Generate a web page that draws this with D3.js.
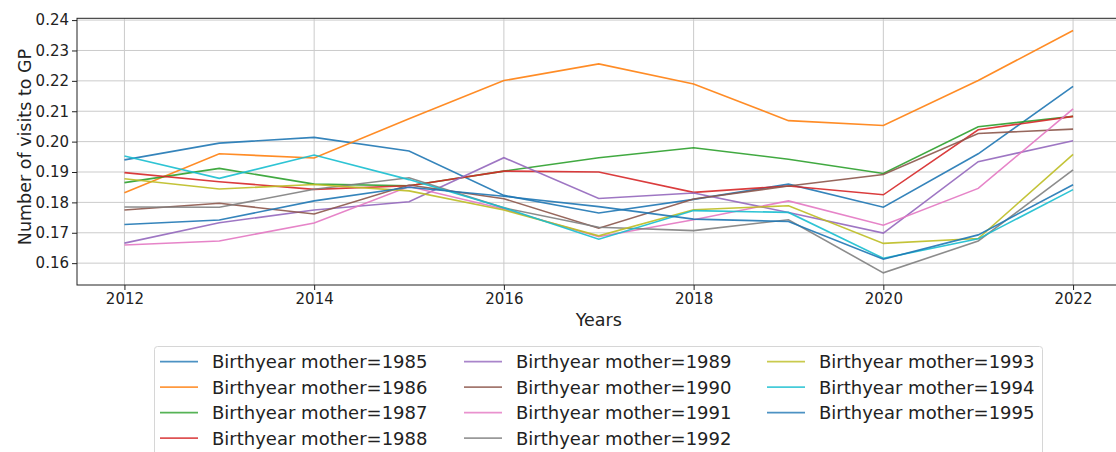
<!DOCTYPE html>
<html>
<head>
<meta charset="utf-8">
<script src="https://cdn.jsdelivr.net/npm/d3@7"></script>
<style>
  body { margin: 0; background: #fff; }
  svg { display: block; font-family: "DejaVu Sans", sans-serif; }
  .tick text { fill: #222; }
</style>
</head>
<body>
<div id="chart"></div>
<script>
// data
var years = [2012, 2013, 2014, 2015, 2016, 2017, 2018, 2019, 2020, 2021, 2022];
var birthyears = [1985, 1986, 1987, 1988, 1989, 1990, 1991, 1992, 1993, 1994, 1995];

var b1985 = [0.1940, 0.1995, 0.2014, 0.1969, 0.1823, 0.1765, 0.1810, 0.1860, 0.1784, 0.1960, 0.2182];
var b1986 = [0.1832, 0.1960, 0.1946, 0.2075, 0.2201, 0.2256, 0.2190, 0.2069, 0.2053, 0.2201, 0.2366];
var b1987 = [0.1865, 0.1912, 0.1860, 0.1855, 0.1903, 0.1947, 0.1980, 0.1942, 0.1895, 0.2049, 0.2083];
var b1988 = [0.1898, 0.1868, 0.1843, 0.1855, 0.1903, 0.1900, 0.1833, 0.1854, 0.1825, 0.2039, 0.2083];
var b1989 = [0.1666, 0.1733, 0.1775, 0.1802, 0.1947, 0.1813, 0.1831, 0.1767, 0.1699, 0.1934, 0.2003];
var b1990 = [0.1775, 0.1797, 0.1762, 0.1857, 0.1812, 0.1715, 0.1811, 0.1854, 0.1892, 0.2027, 0.2041];
var b1991 = [0.1660, 0.1673, 0.1732, 0.1852, 0.1778, 0.1687, 0.1743, 0.1805, 0.1725, 0.1846, 0.2108];
var b1992 = [0.1785, 0.1784, 0.1843, 0.1881, 0.1782, 0.1718, 0.1707, 0.1743, 0.1568, 0.1673, 0.1907];
var b1993 = [0.1878, 0.1844, 0.1859, 0.1838, 0.1775, 0.1690, 0.1776, 0.1789, 0.1665, 0.1681, 0.1958];
var b1994 = [0.1953, 0.1879, 0.1956, 0.1875, 0.1782, 0.1679, 0.1773, 0.1767, 0.1616, 0.1680, 0.1842];
var b1995 = [0.1727, 0.1742, 0.1805, 0.1850, 0.1820, 0.1786, 0.1745, 0.1737, 0.1613, 0.1693, 0.1858];

var seriesValues = [b1985, b1986, b1987, b1988, b1989, b1990, b1991, b1992, b1993, b1994, b1995];

var xTicks = [2012, 2014, 2016, 2018, 2020, 2022];
var yTicks = [0.16, 0.17, 0.18, 0.19, 0.20, 0.21, 0.22, 0.23, 0.24];

// matplotlib tab10 cycle
var colors = ["#1f77b4", "#ff7f0e", "#2ca02c", "#d62728", "#9467bd",
              "#8c564b", "#e377c2", "#7f7f7f", "#bcbd22", "#17becf"];

var W = 1116, H = 452;
var plot = { left: 77, top: 18.3, right: 1120.5, bottom: 285 };

var svg = d3.select("#chart").append("svg")
    .attr("width", W)
    .attr("height", H);

// scales with 5% margins like matplotlib
var x = d3.scaleLinear()
    .domain([2011.5, 2022.5])
    .range([plot.left, plot.right]);

var allVals = d3.merge(seriesValues);
var yMin = d3.min(allVals), yMax = d3.max(allVals);
var pad = (yMax - yMin) * 0.05;
var y = d3.scaleLinear()
    .domain([yMin - pad, yMax + pad])
    .range([plot.bottom, plot.top]);

// grid
svg.append("g").selectAll("line.gx")
    .data(xTicks).enter().append("line")
    .attr("x1", d => x(d)).attr("x2", d => x(d))
    .attr("y1", plot.top).attr("y2", plot.bottom)
    .attr("stroke", "#cbcbcb").attr("stroke-width", 1);
svg.append("g").selectAll("line.gy")
    .data(yTicks).enter().append("line")
    .attr("x1", plot.left).attr("x2", plot.right)
    .attr("y1", d => y(d)).attr("y2", d => y(d))
    .attr("stroke", "#cbcbcb").attr("stroke-width", 1);

// lines
var line = d3.line()
    .x((d, i) => x(years[i]))
    .y(d => y(d));

svg.append("g").selectAll("path")
    .data(seriesValues).enter().append("path")
    .attr("d", line)
    .attr("fill", "none")
    .attr("stroke", (d, i) => colors[i % 10])
    .attr("stroke-width", 1.6)
    .attr("stroke-opacity", 0.9);

// spines
svg.append("rect")
    .attr("x", plot.left).attr("y", plot.top)
    .attr("width", plot.right - plot.left)
    .attr("height", plot.bottom - plot.top)
    .attr("fill", "none")
    .attr("stroke", "#222").attr("stroke-width", 1);

// axes
var xAxis = d3.axisBottom(x).tickValues(xTicks).tickFormat(d3.format("d"))
    .tickSize(5).tickPadding(3);
var yAxis = d3.axisLeft(y).tickValues(yTicks).tickFormat(d3.format(".2f"))
    .tickSize(5).tickPadding(3);

var gx = svg.append("g").attr("transform", "translate(0," + plot.bottom + ")").call(xAxis);
var gy = svg.append("g").attr("transform", "translate(" + plot.left + ",0)").call(yAxis);
[gx, gy].forEach(function (g) {
    g.select(".domain").remove();
    g.selectAll(".tick line").attr("stroke", "#222");
    g.selectAll(".tick text").attr("font-size", 15).attr("font-family", "DejaVu Sans");
});

// axis titles
svg.append("text")
    .attr("x", (plot.left + plot.right) / 2).attr("y", 326)
    .attr("text-anchor", "middle")
    .attr("font-size", 17.5).attr("fill", "#222")
    .text("Years");

svg.append("text")
    .attr("transform", "translate(31," + 147 + ") rotate(-90)")
    .attr("text-anchor", "middle")
    .attr("font-size", 17.5).attr("fill", "#222")
    .text("Number of visits to GP");

// legend, 3 columns x 4 rows
var legend = svg.append("g");
legend.append("rect")
    .attr("x", 154.5).attr("y", 346.5)
    .attr("width", 888).attr("height", 120)
    .attr("rx", 3)
    .attr("fill", "#fff")
    .attr("stroke", "#d6d6d6").attr("stroke-width", 1);

var colX = [160, 464, 767];
var rowY = [361.7, 387.2, 412.7, 438.2];

var item = legend.selectAll("g.item")
    .data(birthyears).enter().append("g")
    .attr("transform", (d, i) => "translate(" + colX[Math.floor(i / 4)] + "," + rowY[i % 4] + ")");

item.append("line")
    .attr("x1", 0).attr("x2", 38)
    .attr("stroke", (d, i) => colors[i % 10])
    .attr("stroke-width", 1.8)
    .attr("stroke-opacity", 0.8);

item.append("text")
    .attr("x", 52)
    .attr("dy", "0.36em")
    .attr("font-size", 18).attr("fill", "#222")
    .text(d => "Birthyear mother=" + d);
</script>
</body>
</html>
